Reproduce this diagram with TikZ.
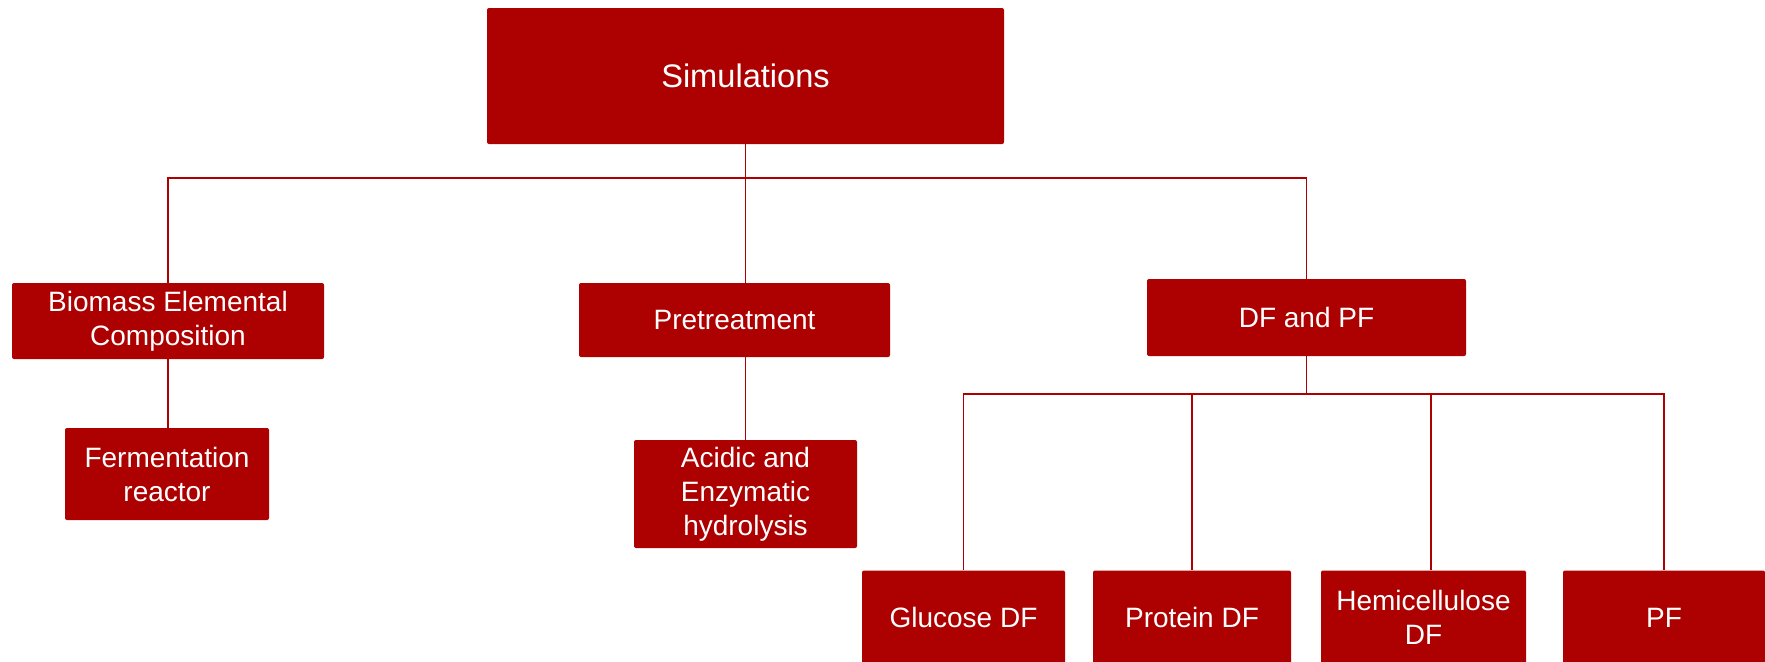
\documentclass[tikz,border=0pt]{standalone}
\usepackage{fontspec}
\setmainfont{Liberation Sans}
\definecolor{boxred}{RGB}{173,0,0}
\begin{document}
\begin{tikzpicture}[x=0.5pt,y=-0.5pt,
  box/.style={draw=none,fill=boxred,text=white,rounded corners=1pt,inner sep=0pt,
    align=center,font=\fontsize{14}{17}\selectfont},
  link/.style={draw=boxred,line width=0.8pt}]
\useasboundingbox (0,0) rectangle (1765,661);
\node[box,minimum width=258.5pt,minimum height=68pt,font=\fontsize{16.3}{19}\selectfont] (sim) at (745.5,76) {Simulations};
\node[box,minimum width=156pt,minimum height=38pt] (bio) at (168,321) {Biomass Elemental\\Composition};
\node[box,minimum width=102pt,minimum height=46pt] (ferm) at (167,474) {Fermentation\\reactor};
\node[box,minimum width=155.5pt,minimum height=37pt] (pre) at (734.5,320) {Pretreatment};
\node[box,minimum width=111.5pt,minimum height=54pt] (acid) at (745.5,494) {Acidic and\\Enzymatic\\hydrolysis};
\node[box,minimum width=159.5pt,minimum height=38.5pt] (df) at (1306.5,317.5) {DF and PF};
\node[box,minimum width=101.5pt,minimum height=47pt] (glu) at (963.5,617.5) {Glucose DF};
\node[box,minimum width=99pt,minimum height=47pt] (pro) at (1192,617.5) {Protein DF};
\node[box,minimum width=102.5pt,minimum height=47pt] (hemi) at (1423.5,617.5) {Hemicellulose\\DF};
\node[box,minimum width=101pt,minimum height=47pt] (pf) at (1664,617.5) {PF};
\coordinate (busA) at (0,178);
\coordinate (busB) at (0,394);
\coordinate (hemitop) at ([xshift=3.75pt]hemi.north);
\draw[link] (sim.south) -- (sim.south |- pre.north);
\draw[link] (bio.north) -- (bio.north |- busA) -- (df.north |- busA) -- (df.north);
\draw[link] (bio.south) -- (bio.south |- ferm.north);
\draw[link] (acid.north |- pre.south) -- (acid.north);
\draw[link] (df.south) -- (df.south |- busB);
\draw[link] (glu.north) -- (glu.north |- busB) -- (pf.north |- busB) -- (pf.north);
\draw[link] (pro.north) -- (pro.north |- busB);
\draw[link] (hemitop) -- (hemitop |- busB);
\end{tikzpicture}
\end{document}
